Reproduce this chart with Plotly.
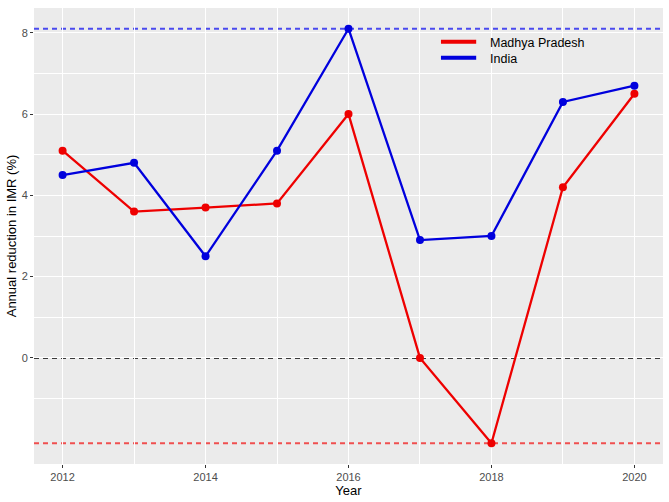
import plotly.graph_objects as go

years = [2012, 2013, 2014, 2015, 2016, 2017, 2018, 2019, 2020]
mp_values = [5.1, 3.6, 3.7, 3.8, 6.0, 0.0, -2.1, 4.2, 6.5]
india_values = [4.5, 4.8, 2.5, 5.1, 8.1, 2.9, 3.0, 6.3, 6.7]
series_names = ["Madhya Pradesh", "India"]
series_colors = ["#ee0000", "#0000dd"]
ref_lines = [(8.1, "#4a4aef"), (0.0, "#3a3a3a"), (-2.1, "#f04f4f")]
x_ticks = [2012, 2014, 2016, 2018, 2020]
y_ticks = [0, 2, 4, 6, 8]

fig = go.Figure()
for name, vals, col in zip(series_names, [mp_values, india_values], series_colors):
    fig.add_trace(go.Scatter(x=years, y=vals, mode="lines+markers", name=name,
                             line=dict(color=col, width=2.3),
                             marker=dict(color=col, size=8), showlegend=False))

for yv, col in ref_lines:
    fig.add_hline(y=yv, line=dict(color=col, width=1.9, dash="5px,4px"), layer="below")

# custom compact legend (ggplot-style, inside the panel)
leg_x0, leg_x1, leg_text_x = 0.647, 0.703, 0.723
leg_y = [0.923, 0.888]
for name, col, yy in zip(series_names, series_colors, leg_y):
    fig.add_shape(type="line", xref="paper", yref="paper", x0=leg_x0, x1=leg_x1,
                  y0=yy + 0.003, y1=yy + 0.003, line=dict(color=col, width=4))
    fig.add_annotation(xref="paper", yref="paper", x=leg_text_x, y=yy, text=name,
                       showarrow=False, xanchor="left", yanchor="middle", borderpad=0,
                       font=dict(size=12.5, color="black"))

fig.update_layout(
    width=669, height=502,
    margin=dict(l=34, r=6, t=8, b=38),
    paper_bgcolor="white", plot_bgcolor="#ebebeb",
    font=dict(family="Liberation Sans, Arial", color="black"),
    showlegend=False,
    xaxis=dict(range=[2011.6, 2020.4], tickvals=x_ticks, ticks="outside", ticklen=3,
               tickcolor="#333333", tickfont=dict(size=11, color="#4d4d4d"),
               showgrid=True, gridcolor="white", gridwidth=1.1, zeroline=False,
               minor=dict(tickvals=[2013, 2015, 2017, 2019], showgrid=True, gridcolor="white", gridwidth=0.5, ticks=""),
               title=dict(text="Year", font=dict(size=13), standoff=1)),
    yaxis=dict(range=[-2.61, 8.61], tickvals=y_ticks, ticks="outside", ticklen=3,
               tickcolor="#333333", tickfont=dict(size=11, color="#4d4d4d"),
               showgrid=True, gridcolor="white", gridwidth=1.1, zeroline=False,
               minor=dict(tickvals=[-1, 1, 3, 5, 7], showgrid=True, gridcolor="white", gridwidth=0.5, ticks=""),
               title=dict(text="Annual reduction in IMR (%)", font=dict(size=13), standoff=2)),
)

fig.write_html("out.html")
